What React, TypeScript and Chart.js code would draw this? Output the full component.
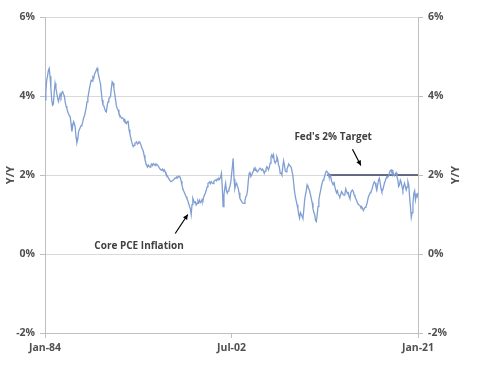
import React, { useEffect, useRef } from "react";
import { Chart, registerables } from "chart.js";

Chart.register(...registerables);

// ---- Data ----
const MONTH_NAMES = ["Jan", "Feb", "Mar", "Apr", "May", "Jun", "Jul", "Aug", "Sep", "Oct", "Nov", "Dec"];
const FIRST_YEAR = 1984;

// Core PCE inflation, Y/Y %, monthly Jan-84 .. Jan-21
const corePce: number[] = [
  // 1984
  3.9, 4.1, 4.4, 4.5, 4.65, 4.7, 4.5, 4.2, 3.9, 3.77, 3.8, 4.1,
  // 1985
  4.32, 4.2, 4.07, 3.95, 3.86, 3.95, 4.05, 3.98, 4.08, 4.11, 4.05, 4.0,
  // 1986
  3.85, 3.75, 3.69, 3.6, 3.55, 3.5, 3.48, 3.3, 3.1, 3.25, 3.35, 3.3,
  // 1987
  3.2, 2.95, 2.82, 2.9, 3.1, 3.15, 3.2, 3.25, 3.27, 3.35, 3.45, 3.5,
  // 1988
  3.6, 3.7, 3.85, 3.95, 4.07, 4.2, 4.3, 4.4, 4.38, 4.48, 4.45, 4.55,
  // 1989
  4.6, 4.65, 4.7, 4.6, 4.5, 4.4, 4.32, 4.1, 3.9, 3.77, 3.75, 3.68,
  // 1990
  3.62, 3.6, 3.75, 3.85, 3.94, 3.95, 4.0, 4.2, 4.36, 4.33, 4.2, 4.05,
  // 1991
  3.9, 3.75, 3.68, 3.65, 3.56, 3.52, 3.48, 3.44, 3.45, 3.43, 3.38, 3.4,
  // 1992
  3.32, 3.3, 3.36, 3.36, 3.15, 3.05, 2.95, 2.85, 2.78, 2.72, 2.75, 2.8,
  // 1993
  2.82, 2.84, 2.78, 2.8, 2.84, 2.81, 2.78, 2.7, 2.65, 2.6, 2.5, 2.4,
  // 1994
  2.3, 2.25, 2.2, 2.25, 2.22, 2.2, 2.25, 2.28, 2.24, 2.29, 2.27, 2.24,
  // 1995
  2.28, 2.27, 2.25, 2.22, 2.18, 2.15, 2.13, 2.12, 2.15, 2.1, 2.13, 2.08,
  // 1996
  2.02, 2.0, 1.96, 1.92, 1.88, 1.85, 1.83, 1.83, 1.86, 1.88, 1.9, 1.93,
  // 1997
  1.92, 1.95, 1.93, 1.97, 1.96, 1.94, 1.85, 1.75, 1.66, 1.6, 1.55, 1.5,
  // 1998
  1.45, 1.4, 1.35, 1.28, 1.2, 1.15, 1.0, 1.25, 1.41, 1.35, 1.3, 1.32,
  // 1999
  1.24, 1.28, 1.35, 1.3, 1.36, 1.3, 1.32, 1.38, 1.35, 1.45, 1.5, 1.55,
  // 2000
  1.62, 1.7, 1.79, 1.8, 1.83, 1.78, 1.83, 1.8, 1.78, 1.84, 1.86, 1.87,
  // 2001
  1.85, 1.9, 1.88, 1.92, 1.9, 1.95, 2.04, 1.7, 1.2, 1.5, 1.66, 1.79,
  // 2002
  1.6, 1.54, 1.6, 1.65, 1.7, 1.8, 2.0, 2.2, 2.42, 1.9, 1.66, 1.75,
  // 2003
  1.79, 1.72, 1.66, 1.55, 1.41, 1.37, 1.33, 1.3, 1.28, 1.28, 1.35, 1.45,
  // 2004
  1.48, 1.6, 1.85, 2.04, 2.08, 1.96, 2.0, 2.05, 2.1, 2.17, 2.12, 2.15,
  // 2005
  2.1, 2.08, 2.12, 2.15, 2.17, 2.17, 2.12, 2.15, 2.1, 2.04, 2.1, 2.15,
  // 2006
  2.21, 2.18, 2.13, 2.2, 2.3, 2.46, 2.51, 2.45, 2.51, 2.35, 2.3, 2.35,
  // 2007
  2.46, 2.4, 2.25, 2.2, 2.04, 2.05, 2.0, 2.2, 2.36, 2.25, 2.1, 2.08,
  // 2008
  2.15, 2.2, 2.28, 2.25, 2.22, 2.2, 2.2, 2.0, 1.79, 1.6, 1.45, 1.35,
  // 2009
  1.25, 1.15, 1.0, 0.91, 1.05, 1.0, 0.95, 0.9, 1.1, 1.35, 1.5, 1.6,
  // 2010
  1.75, 1.7, 1.65, 1.6, 1.5, 1.4, 1.3, 1.15, 1.05, 1.0, 0.85, 0.82,
  // 2011
  1.0, 1.2, 1.37, 1.5, 1.6, 1.71, 1.8, 1.87, 1.9, 1.98, 2.05, 2.1,
  // 2012
  2.08, 2.05, 1.96, 1.95, 1.98, 1.85, 1.8, 1.75, 1.83, 1.7, 1.62, 1.55,
  // 2013
  1.6, 1.52, 1.48, 1.45, 1.5, 1.58, 1.55, 1.5, 1.49, 1.52, 1.65, 1.58,
  // 2014
  1.53, 1.55, 1.45, 1.4, 1.55, 1.6, 1.62, 1.58, 1.5, 1.45, 1.4, 1.35,
  // 2015
  1.3, 1.25, 1.24, 1.22, 1.18, 1.2, 1.15, 1.1, 1.15, 1.18, 1.2, 1.25,
  // 2016
  1.35, 1.45, 1.5, 1.55, 1.58, 1.62, 1.7, 1.78, 1.83, 1.8, 1.7, 1.62,
  // 2017
  1.75, 1.87, 1.92, 1.8, 1.65, 1.58, 1.62, 1.7, 1.79, 1.85, 1.92, 1.96,
  // 2018
  1.95, 1.97, 2.05, 2.11, 2.13, 2.05, 2.1, 2.0, 1.98, 2.03, 2.06, 1.95,
  // 2019
  1.87, 1.71, 1.75, 1.87, 1.82, 1.7, 1.62, 1.72, 1.79, 1.7, 1.62, 1.7,
  // 2020
  1.83, 1.75, 1.45, 1.2, 0.93, 1.05, 1.28, 1.53, 1.6, 1.37, 1.5, 1.45,
  // 2021
  1.55,
];

const monthLabels: string[] = corePce.map((_, i) => {
  const yr = (FIRST_YEAR + Math.floor(i / 12)) % 100;
  return `${MONTH_NAMES[i % 12]}-${String(yr).padStart(2, "0")}`;
});

const shownTickLabels = ["Jan-84", "Jul-02", "Jan-21"];
const yTickValues = [-2, 0, 2, 4, 6];

const fedTargetStart = "Jan-12";
const fedTargetValue = 2;
const fedTargetStartIdx = monthLabels.indexOf(fedTargetStart);
const fedTarget: (number | null)[] = monthLabels.map((_, i) => (i >= fedTargetStartIdx ? fedTargetValue : null));

// annotations in data space: [label, value]
const annotations = [
  { text: "Core PCE Inflation", at: ["May-93", 0.2], from: ["Dec-96", 0.52], to: ["Mar-98", 1.0] },
  { text: "Fed's 2% Target", at: ["Aug-12", 2.96], from: ["Jul-14", 2.65], to: ["May-15", 2.24] },
];

const FONT = "'Open Sans', 'DejaVu Sans', sans-serif";
const TICK_COLOR = "#505050";
const AXIS_COLOR = "#BFBFBF";
const GRID_COLOR = "#D9D9D9";

const annotationPlugin = {
  id: "annotationsAndTitle",
  afterDraw(chart: any) {
    const { ctx, scales } = chart;
    const xs = scales.x;
    const ys = scales.y;
    const px = (lab: string) => xs.getPixelForValue(monthLabels.indexOf(lab));
    const py = (v: number) => ys.getPixelForValue(v);
    ctx.save();
    ctx.font = `bold 10px ${FONT}`;
    ctx.fillStyle = "#404040";
    ctx.textAlign = "center";
    ctx.textBaseline = "middle";
    for (const a of annotations) {
      ctx.fillStyle = "#404040";
      ctx.fillText(a.text, px(a.at[0] as string), py(a.at[1] as number));
      const x1 = px(a.from[0] as string), y1 = py(a.from[1] as number);
      const x2 = px(a.to[0] as string), y2 = py(a.to[1] as number);
      ctx.strokeStyle = "#000";
      ctx.fillStyle = "#000";
      ctx.lineWidth = 1.2;
      ctx.beginPath();
      ctx.moveTo(x1, y1);
      ctx.lineTo(x2, y2);
      ctx.stroke();
      const ang = Math.atan2(y2 - y1, x2 - x1);
      const hl = 5, hw = 2.5;
      ctx.beginPath();
      ctx.moveTo(x2, y2);
      ctx.lineTo(x2 - hl * Math.cos(ang) + hw * Math.sin(ang), y2 - hl * Math.sin(ang) - hw * Math.cos(ang));
      ctx.lineTo(x2 - hl * Math.cos(ang) - hw * Math.sin(ang), y2 - hl * Math.sin(ang) + hw * Math.cos(ang));
      ctx.closePath();
      ctx.fill();
    }
    // right axis title, reading bottom-to-top
    const y2s = scales.y2;
    ctx.translate(y2s.right - 24, (y2s.top + y2s.bottom) / 2);
    ctx.rotate(-Math.PI / 2);
    ctx.font = `bold 11px ${FONT}`;
    ctx.fillStyle = TICK_COLOR;
    ctx.fillText("Y/Y", 0, 0);
    ctx.restore();
  },
};

export default function App() {
  const ref = useRef<HTMLCanvasElement | null>(null);
  useEffect(() => {
    document.body.style.margin = "0";
    if (!ref.current) return;
    const tickFont = { family: FONT, size: 10.5, weight: "bold" as const };
    const chart = new Chart(ref.current, {
      type: "line",
      data: {
        labels: monthLabels,
        datasets: [
          {
            label: "Core PCE Inflation",
            data: corePce,
            borderColor: "#7F9ED3",
            borderWidth: 1.3,
            pointRadius: 0,
            tension: 0,
            yAxisID: "y",
          },
          {
            label: "Fed's 2% Target",
            data: fedTarget,
            borderColor: "#34405E",
            borderWidth: 1.5,
            pointRadius: 0,
            spanGaps: false,
            yAxisID: "y",
          },
        ],
      },
      options: {
        animation: false,
        responsive: false,
        layout: { padding: { top: 17, left: 0, right: 0, bottom: 0 } },
        plugins: { legend: { display: false }, tooltip: { enabled: false } },
        scales: {
          x: {
            type: "category",
            offset: false,
            ticks: {
              autoSkip: false,
              maxRotation: 0,
              minRotation: 0,
              padding: 4,
              color: TICK_COLOR,
              font: tickFont,
              callback: (_v: any, i: number) => (shownTickLabels.includes(monthLabels[i]) ? monthLabels[i] : null),
            },
            grid: { drawOnChartArea: false, tickLength: 5, color: AXIS_COLOR },
            border: { color: AXIS_COLOR },
            afterFit: (s: any) => {
              s.height = 43;
            },
          },
          y: {
            position: "left",
            min: -2,
            max: 6,
            afterBuildTicks: (s: any) => {
              s.ticks = yTickValues.map((v) => ({ value: v }));
            },
            ticks: {
              color: TICK_COLOR,
              font: tickFont,
              padding: 5,
              callback: (v: any) => `${v}%`,
            },
            grid: { color: GRID_COLOR, tickLength: 5, tickColor: AXIS_COLOR },
            border: { color: AXIS_COLOR },
            title: { display: true, text: "Y/Y", color: TICK_COLOR, font: { family: FONT, size: 11, weight: "bold" } },
            afterFit: (s: any) => {
              s.width = 45;
            },
          },
          y2: {
            position: "right",
            min: -2,
            max: 6,
            afterBuildTicks: (s: any) => {
              s.ticks = yTickValues.map((v) => ({ value: v }));
            },
            ticks: {
              color: TICK_COLOR,
              font: tickFont,
              padding: 5,
              callback: (v: any) => `${v}%`,
            },
            grid: { drawOnChartArea: false, tickLength: 5, color: AXIS_COLOR },
            border: { color: AXIS_COLOR },
            afterFit: (s: any) => {
              s.width = 62;
            },
          },
        },
      },
      plugins: [annotationPlugin],
    });
    return () => chart.destroy();
  }, []);
  return <canvas ref={ref} width={480} height={376} style={{ display: "block" }} />;
}
